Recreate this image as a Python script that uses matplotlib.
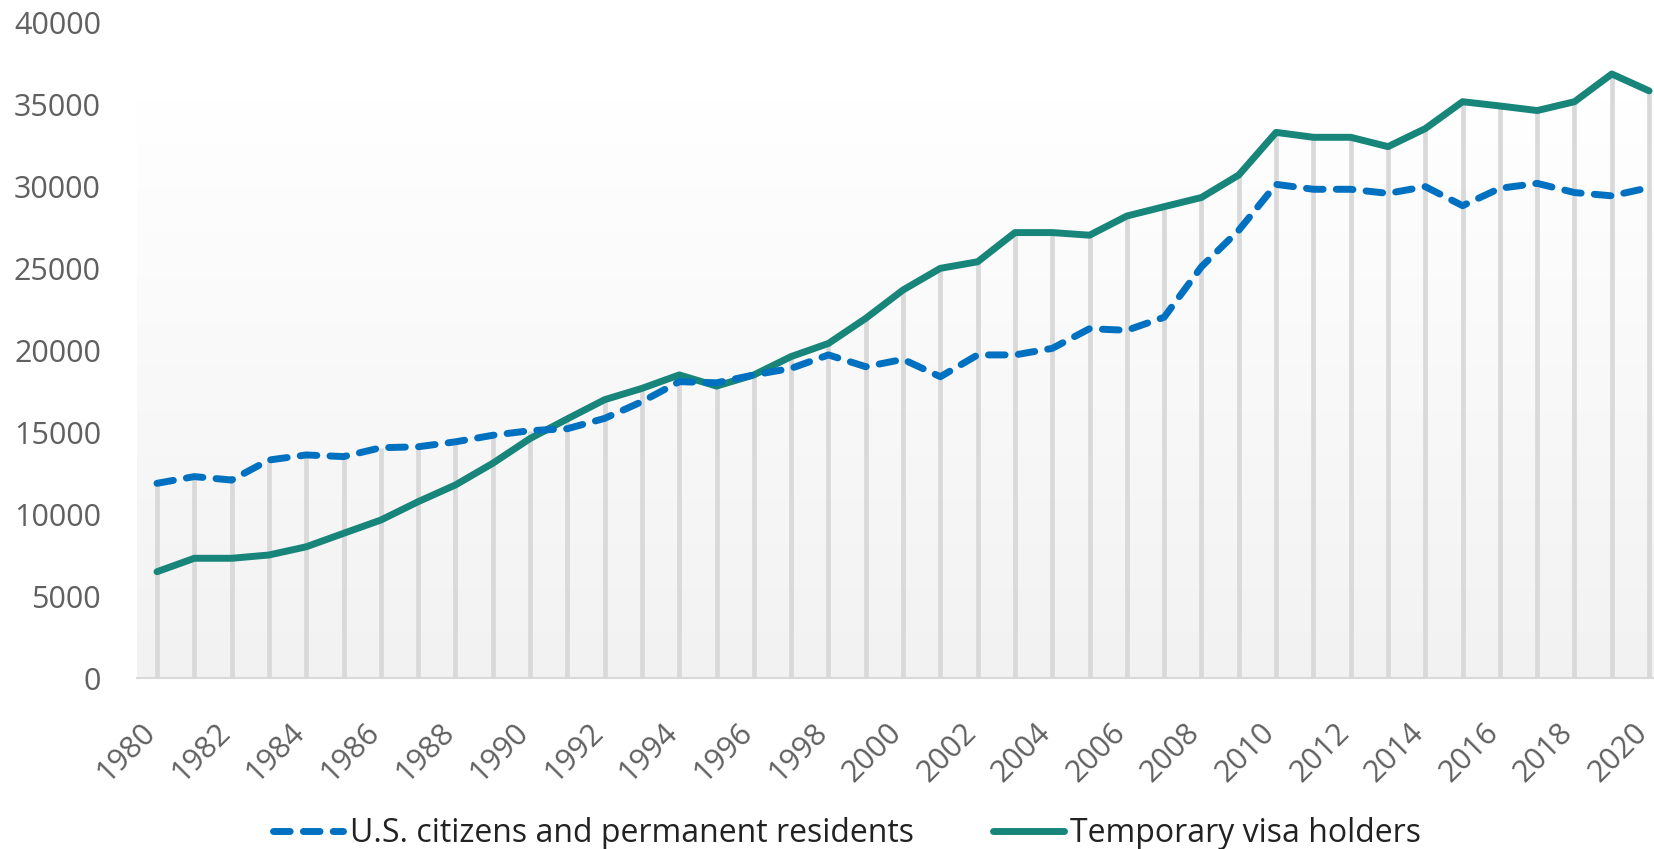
import numpy as np
import matplotlib
matplotlib.use("Agg")
import matplotlib.pyplot as plt
from matplotlib.lines import Line2D
import matplotlib.transforms as mtransforms
from matplotlib.colors import LinearSegmentedColormap

years = list(range(1980, 2021))
citizens = [11870, 12280, 12070, 13290, 13600, 13500, 14040, 14100, 14400, 14800,
            15080, 15200, 15830, 16850, 18070, 18000, 18480, 18880, 19700, 18980,
            19430, 18370, 19700, 19700, 20100, 21300, 21200, 22000, 25080, 27300,
            30100, 29800, 29800, 29550, 29960, 28800, 29860, 30160, 29600, 29400, 29900]
temporary = [6480, 7300, 7300, 7500, 8000, 8820, 9630, 10750, 11770, 13090,
             14600, 15800, 16970, 17660, 18480, 17800, 18480, 19600, 20400, 21930,
             23660, 24980, 25380, 27160, 27160, 27000, 28170, 28740, 29300, 30670,
             33270, 32970, 32970, 32400, 33500, 35140, 34880, 34600, 35140, 36830, 35800]
series_names = ["U.S. citizens and permanent residents", "Temporary visa holders"]
y_ticks = list(range(0, 40001, 5000))
x_ticks = list(range(1980, 2021, 2))

plt.rcParams['font.family'] = ['Open Sans', 'DejaVu Sans']

W, H = 1654, 849
fig = plt.figure(figsize=(W / 100, H / 100), dpi=100)
fig.patch.set_facecolor('white')

left = 137 / W
bottom = 1 - 678 / H
top = 1 - 22 / H
ax = fig.add_axes([left, bottom, 1 - left, top - bottom])
ax.set_facecolor('none')

blue = '#0070c0'
teal = '#17857a'
grid_gray = '#d9d9d9'
lw = 5.0
dash = (0, (2.4, 1.9))

# gradient plot-area fill
grad = np.linspace(0, 1, 256).reshape(-1, 1)
cmap = LinearSegmentedColormap.from_list('g', ['#f2f2f2', '#ffffff'])
ax.imshow(grad, extent=[0, 1, 0, 0.8826], transform=ax.transAxes, aspect='auto',
          cmap=cmap, origin='lower', zorder=0, interpolation='bilinear')

x = np.array(years)
c = np.array(citizens)
t = np.array(temporary)
tops = np.maximum(c, t)
ax.vlines(x, 0, tops, colors=grid_gray, linewidth=3.4, zorder=1)

ax.plot(x, t, color=teal, linewidth=lw, solid_capstyle='round', solid_joinstyle='round', zorder=3,
        label=series_names[1])
ax.plot(x, c, color=blue, linewidth=lw, linestyle=dash, dash_capstyle='round',
        dash_joinstyle='round', zorder=4, label=series_names[0])

ax.set_xlim(1980 - 20 / 37.31, 1980 + (W - 156.7) / 37.31)
ax.set_ylim(0, 40000)
ax.set_yticks(y_ticks)
ax.set_yticklabels([str(v) for v in y_ticks])
ax.set_xticks(x_ticks)
ax.set_xticklabels([str(v) for v in x_ticks], rotation=45, ha='right', va='center',
                   rotation_mode='anchor')

for s in ['top', 'right', 'left']:
    ax.spines[s].set_visible(False)
ax.spines['bottom'].set_color(grid_gray)
ax.spines['bottom'].set_linewidth(1.5)
ax.spines['bottom'].set_zorder(2)

ax.tick_params(axis='y', length=0, pad=26, labelsize=22, labelcolor='#606060')
ax.tick_params(axis='x', length=0, pad=36, labelsize=22, labelcolor='#606060')

offset = mtransforms.ScaledTranslation(-6 / 100, 0, fig.dpi_scale_trans)
for lab in ax.get_xticklabels():
    lab.set_transform(lab.get_transform() + offset)

handles = [Line2D([0], [0], color=blue, linewidth=lw, linestyle=dash,
                  dash_capstyle='round'),
           Line2D([0], [0], color=teal, linewidth=lw, solid_capstyle='round')]
fig.legend(handles, series_names, loc='center', ncol=2,
           bbox_to_anchor=(847 / W, 1 - 834 / H), frameon=False,
           fontsize=23, labelcolor='#222222', handlelength=2.2, handletextpad=0.2,
           columnspacing=2.5, borderpad=0, borderaxespad=0)

fig.savefig('out.png', dpi=100, facecolor='white')
